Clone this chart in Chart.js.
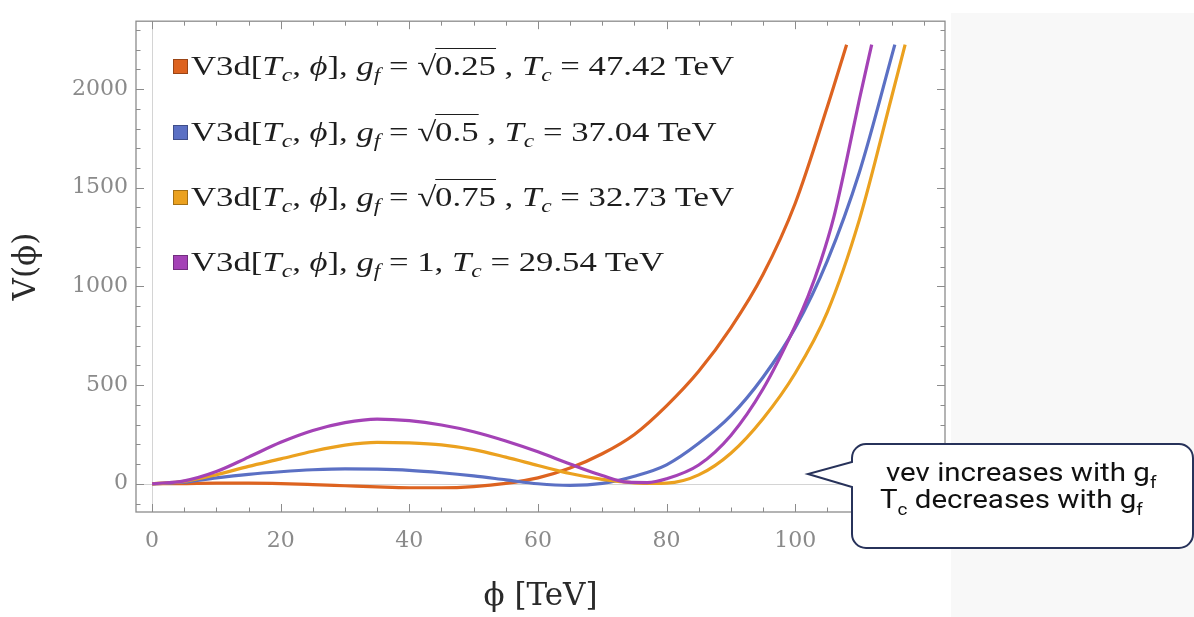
<!DOCTYPE html>
<html>
<head>
<meta charset="utf-8">
<script src="https://cdn.jsdelivr.net/npm/chart.js@4.4.1/dist/chart.umd.min.js"></script>
<style>
  html, body { margin:0; padding:0; background:#fff; }
  #wrap { position:relative; width:1194px; height:617px; overflow:hidden; background:#fff; }
  #panel { position:absolute; left:951px; top:13px; width:243px; height:604px; background:#f8f8f8; }
  #chart { position:absolute; left:0; top:0; }
  #legend { position:absolute; left:173px; top:0; font-family:'Liberation Serif', serif; font-size:28px; color:#1e1e1e; }
  .row { position:absolute; left:0; height:36px; line-height:36px; white-space:nowrap; }
  .sw { display:inline-block; width:13px; height:13px; border:1px solid rgba(0,0,0,.3); margin-right:3px; vertical-align:middle; position:relative; top:-2px; }
  .txt { display:inline-block; transform:scaleX(1.24); transform-origin:0 50%; }
  .rad { border-top:1.5px solid #1e1e1e; padding-top:1px; margin-left:-1px; }
  .sub { font-size:19px; font-style:italic; position:relative; top:6px; }
  #note { position:absolute; left:0; top:0; }
</style>
</head>
<body>
<div id="wrap">
  <div id="panel"></div>
  <canvas id="chart" width="1194" height="617"></canvas>
  <div id="legend"></div>
  <svg id="note" width="1194" height="617">
    <path d="M866 444 H1179 A14 14 0 0 1 1193 458 V534 A14 14 0 0 1 1179 548 H866 A14 14 0 0 1 852 534 V487 L808 474 L852 462 V458 A14 14 0 0 1 866 444 Z"
          fill="#fff" stroke="#27325a" stroke-width="2"/>
    <text transform="translate(886 481) scale(1.18 1)" font-family="Roboto, sans-serif" font-size="25" fill="#111"><tspan x="0" y="0">vev increases with g</tspan><tspan font-size="16" dy="7">f</tspan></text>
    <text transform="translate(880 508) scale(1.18 1)" font-family="Roboto, sans-serif" font-size="25" fill="#111"><tspan x="0" y="0">T</tspan><tspan font-size="16" dy="7">c</tspan><tspan dy="-7"> decreases with g</tspan><tspan font-size="16" dy="7">f</tspan></text>
  </svg>
</div>
<script>
const seriesColors = ['#dd6320', '#5b70c4', '#eba11f', '#a442b6']
const gfValues = ['0.25', '0.5', '0.75', '1']
const gfRooted = [true, true, true, false]
const tcValues = ['47.42', '37.04', '32.73', '29.54']

// phi [TeV] and V(phi), one pair per g_f
const phi1 = [0, 5, 10, 15, 20, 25, 30, 35, 40, 45, 50, 55, 60, 65, 70, 75, 80, 85, 90, 95, 100, 105, 108]
const v1   = [0, 1, 3, 3, 1, -4, -10, -16, -20, -20, -14, 2, 30, 80, 152, 250, 395, 570, 790, 1060, 1420, 1910, 2225]

const phi2 = [0, 5, 10, 15, 20, 25, 30, 35, 40, 45, 50, 55, 60, 65, 70, 75, 80, 85, 90, 95, 100, 105, 110, 115.5]
const v2   = [0, 8, 30, 48, 61, 71, 76, 74, 68, 56, 40, 20, 0, -8, 2, 38, 96, 205, 345, 540, 790, 1130, 1580, 2225]

const phi3 = [0, 5, 10, 15, 20, 25, 30, 35, 40, 45, 50, 55, 60, 65, 70, 75, 78, 80, 85, 90, 95, 100, 105, 110, 115, 117.1]
const v3   = [0, 12, 46, 88, 126, 165, 196, 210, 207, 197, 173, 135, 93, 52, 22, 5, 2, 3, 45, 155, 330, 560, 870, 1340, 1960, 2225]

const phi4 = [0, 5, 10, 15, 20, 25, 30, 35, 40, 45, 50, 55, 60, 65, 70, 74, 77, 80, 85, 90, 95, 100, 102, 104, 106, 108, 110, 111.9]
const v4   = [0, 15, 62, 135, 210, 270, 310, 328, 320, 298, 264, 217, 162, 100, 42, 8, 6, 25, 95, 245, 480, 800, 950, 1130, 1350, 1640, 1950, 2225]

const xTicks = [0, 20, 40, 60, 80, 100]
const xMinor = [5, 10, 15, 25, 30, 35, 45, 50, 55, 65, 70, 75, 85, 90, 95, 105, 110, 115, 120]
const yTicks = [0, 500, 1000, 1500, 2000]
const yMinor = [-100, 100, 200, 300, 400, 600, 700, 800, 900, 1100, 1200, 1300, 1400, 1600, 1700, 1800, 1900, 2100, 2200, 2300]

const X_MIN = -2.5, X_MAX = 123.3, Y_MIN = -143, Y_MAX = 2344

const phis = [phi1, phi2, phi3, phi4]
const vals = [v1, v2, v3, v4]

const FRAME = '#8c8c8c'
const TICK_FONT = { family: 'DejaVu Serif', size: 22 }
const TITLE_FONT = { family: 'DejaVu Serif', size: 31 }

const framePlugin = {
  id: 'frame',
  beforeDatasetsDraw(chart) {
    const { ctx, chartArea: a, scales: { x, y } } = chart
    ctx.save()
    ctx.strokeStyle = '#d4d4d4'
    ctx.lineWidth = 1
    ctx.beginPath()
    const x0 = Math.round(x.getPixelForValue(0)) + 0.5
    const y0 = Math.round(y.getPixelForValue(0)) + 0.5
    ctx.moveTo(x0, a.top); ctx.lineTo(x0, a.bottom)
    ctx.moveTo(a.left, y0); ctx.lineTo(a.right, y0)
    ctx.stroke()
    ctx.restore()
  },
  afterDatasetsDraw(chart) {
    const { ctx, chartArea: a, scales: { x, y } } = chart
    ctx.save()
    ctx.strokeStyle = FRAME
    ctx.lineWidth = 1.3
    ctx.strokeRect(a.left, a.top, a.right - a.left, a.bottom - a.top)
    ctx.lineWidth = 1
    ctx.beginPath()
    const tx = (v, len) => {
      const p = Math.round(x.getPixelForValue(v)) + 0.5
      ctx.moveTo(p, a.bottom); ctx.lineTo(p, a.bottom - len)
      ctx.moveTo(p, a.top); ctx.lineTo(p, a.top + len)
    }
    const ty = (v, len) => {
      const p = Math.round(y.getPixelForValue(v)) + 0.5
      ctx.moveTo(a.left, p); ctx.lineTo(a.left + len, p)
      ctx.moveTo(a.right, p); ctx.lineTo(a.right - len, p)
    }
    xTicks.forEach(v => tx(v, 8))
    xMinor.forEach(v => tx(v, 4.5))
    yTicks.forEach(v => ty(v, 8))
    yMinor.forEach(v => ty(v, 4.5))
    ctx.stroke()
    ctx.restore()
  }
}

function _legend() {
  const rowY = [66, 131.7, 196.7, 261.7]
  const el = document.getElementById('legend')
  el.innerHTML = tcValues.map((tc, i) => {
    const g = gfRooted[i] ? `√<span class="rad">${gfValues[i]}</span> ,` : `${gfValues[i]},`
    return `<div class="row" style="top:${rowY[i] - 18}px">` +
      `<span class="sw" style="background:${seriesColors[i]}"></span>` +
      `<span class="txt">V3d[<i>T</i><span class="sub">c</span>, <i>ϕ</i>], <i>g</i><span class="sub">f</span> = ${g} ` +
      `<i>T</i><span class="sub">c</span> = ${tc} TeV</span></div>`
  }).join('')
}

new Chart(document.getElementById('chart'), {
  type: 'line',
  data: {
    datasets: phis.map((p, i) => ({
      label: 'g_f = ' + gfValues[i],
      data: p.map((xv, j) => ({ x: xv, y: vals[i][j] })),
      borderColor: seriesColors[i],
      borderWidth: 3.2,
      pointRadius: 0,
      fill: false,
      cubicInterpolationMode: 'monotone',
      order: 3 - i,
    })),
  },
  options: {
    responsive: false,
    animation: false,
    devicePixelRatio: 1,
    layout: { padding: { top: 13, right: 249, left: 0, bottom: 0 } },
    plugins: { legend: { display: false }, tooltip: { enabled: false } },
    scales: {
      x: {
        type: 'linear', min: X_MIN, max: X_MAX,
        afterBuildTicks: s => { s.ticks = xTicks.map(v => ({ value: v })) },
        afterFit: s => { s.height = 105 },
        grid: { display: false, drawTicks: false },
        border: { display: false },
        ticks: { padding: 16, color: '#8a8a8a', font: TICK_FONT, callback: v => String(v) },
        title: { display: true, text: 'ϕ [TeV]', color: '#2a2a2a', padding: { top: 0, bottom: 1 }, font: TITLE_FONT },
      },
      y: {
        type: 'linear', min: Y_MIN, max: Y_MAX,
        afterBuildTicks: s => { s.ticks = yTicks.map(v => ({ value: v })) },
        afterFit: s => { s.width = 136 },
        grid: { display: false, drawTicks: false },
        border: { display: false },
        ticks: { padding: 8, color: '#8a8a8a', font: TICK_FONT, callback: v => String(v) },
        title: { display: true, text: 'V(ϕ)', color: '#2a2a2a', padding: { top: 8, bottom: 0 }, font: TITLE_FONT },
      },
    },
  },
  plugins: [framePlugin],
})

_legend()
</script>
</body>
</html>
